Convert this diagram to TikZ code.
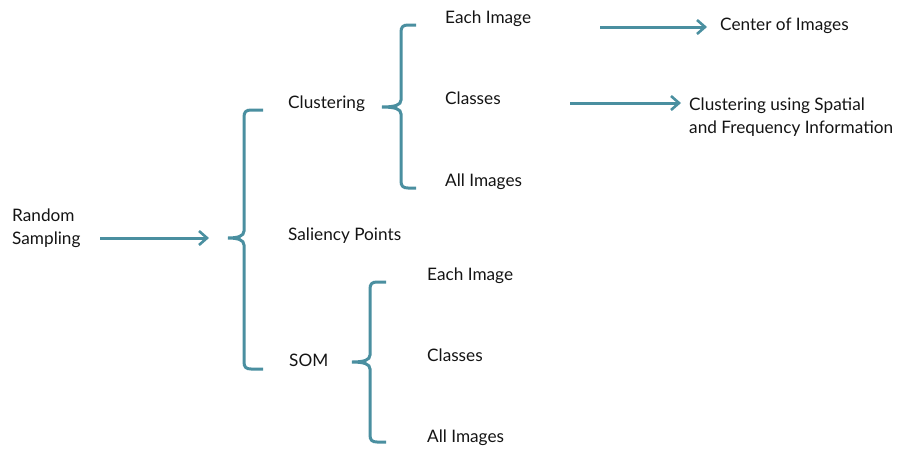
\documentclass[tikz,border=0pt]{standalone}
\usepackage{fontspec}
\setmainfont{Lato}
\usetikzlibrary{arrows.meta}
\definecolor{teal1}{RGB}{74,143,160}
\tikzset{
  lbl/.style={anchor=west, inner sep=0pt, font=\fontsize{17.2}{23.5}\selectfont, text=black!92, align=left},
  link/.style={draw=teal1, line width=3pt, -{Straight Barb[length=8pt,width=14pt,line width=2.6pt]}},
  brace/.style={draw=teal1, line width=3pt}
}
\begin{document}
\begin{tikzpicture}[x=1pt,y=-1pt]
\useasboundingbox (0,0) rectangle (906,448);

% labels
\node[lbl] (rs) at (12,228) {Random\\Sampling};
\node[lbl] (clu) at (288,104) {Clustering};
\node[lbl] (sal) at (288,236) {Saliency Points};
\node[lbl] (som) at (289,360) {SOM};
\node[lbl] (ce) at (445,19) {Each Image};
\node[lbl] (cc) at (445,98) {Classes};
\node[lbl] (ca) at (445,182) {All Images};
\node[lbl] (se) at (427,276) {Each Image};
\node[lbl] (sc) at (427,355) {Classes};
\node[lbl] (sa) at (427,438) {All Images};
\node[lbl] (coi) at (720,26) {Center of Images};
\node[lbl] (csf) at (689,117) {Clustering using Spatial\\and Frequency Information};

% arrow endpoints
\coordinate (a1s) at (100,238);
\coordinate (a1e) at (209,238);
\coordinate (a2s) at (600,27);
\coordinate (a2e) at (707,27);
\coordinate (a3s) at (570,103);
\coordinate (a3e) at (681,103);

\draw[link] (a1s) -- (a1e);
\draw[link] (a2s) -- (a2e);
\draw[link] (a3s) -- (a3e);

% braces
\draw[brace] (263,110) -- (251,110) .. controls (246,110) and (244,112) .. (244,117)
  -- (244,231) .. controls (244,236) and (238,238) .. (228,238)
  .. controls (238,238) and (244,240) .. (244,245)
  -- (244,362) .. controls (244,367) and (246,369) .. (251,369) -- (263,369);
\draw[brace] (416,25) -- (408,25) .. controls (403,25) and (401,27) .. (401,32)
  -- (401,100) .. controls (401,105) and (395,107) .. (382,107)
  .. controls (395,107) and (401,109) .. (401,114)
  -- (401,181) .. controls (401,186) and (403,188) .. (408,188) -- (416,188);
\draw[brace] (386,282) -- (377,282) .. controls (372,282) and (370,284) .. (370,289)
  -- (370,355) .. controls (370,360) and (364,362) .. (352,362)
  .. controls (364,362) and (370,364) .. (370,369)
  -- (370,435) .. controls (370,440) and (372,442) .. (377,442) -- (386,442);
\end{tikzpicture}
\end{document}
